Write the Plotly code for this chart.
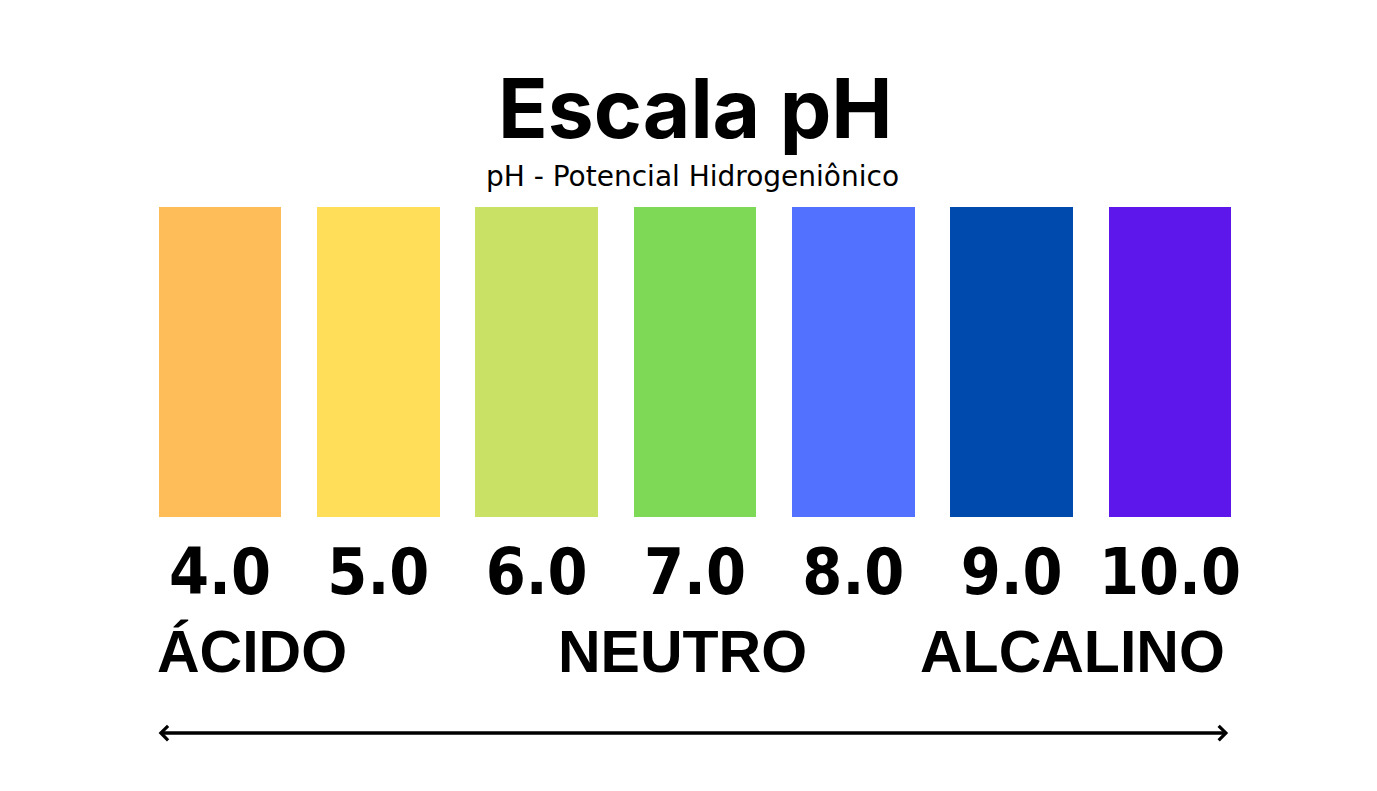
import plotly.graph_objects as go

# pH scale data
PH_VALUES=[4.0,5.0,6.0,7.0,8.0,9.0,10.0]
PH_LABELS=["4.0","5.0","6.0","7.0","8.0","9.0","10.0"]
BAR_HEIGHT=[1,1,1,1,1,1,1]
BAR_COLORS=["#FFBD59","#FFDE59","#C9E265","#7ED957","#5271FF","#004AAD","#5E17EB"]
GROUPS=["ÁCIDO","NEUTRO","ALCALINO"]

TITLE="Escala pH"
SUBTITLE="pH - Potencial Hidrogeniônico"

WIDTH=1377
HEIGHT=791
BAR_WIDTH=0.775
# ranges account for the 8px body margin of the page
X_RANGE=[2.6610,11.3580]
Y_RANGE=[-0.9097,1.6419]
NUM_FONT="DejaVu Sans Condensed, sans-serif"
GROUP_FONT="Liberation Sans, Arial, sans-serif"

fig=go.Figure()
fig.add_trace(go.Bar(x=PH_VALUES,y=BAR_HEIGHT,width=BAR_WIDTH,
                     marker=dict(color=BAR_COLORS,line=dict(width=0)),
                     hoverinfo="skip"))
fig.add_trace(go.Scatter(x=PH_VALUES,y=[-0.196]*len(PH_VALUES),mode="text",
                         text=PH_LABELS,
                         textfont=dict(family=NUM_FONT,size=64,color="black",weight="bold"),
                         hoverinfo="skip"))

left_edge=min(PH_VALUES)-BAR_WIDTH/2
right_edge=max(PH_VALUES)+BAR_WIDTH/2
annotations=[
    dict(text=f"<b>{TITLE}</b>",x=0.4996,y=0.873,xref="paper",yref="paper",
         xanchor="center",yanchor="middle",showarrow=False,
         font=dict(family="Inter, Roboto, sans-serif",size=82,color="black",weight=900)),
    dict(text=SUBTITLE,x=0.4971,y=0.787,xref="paper",yref="paper",
         xanchor="center",yanchor="middle",showarrow=False,
         font=dict(family="DejaVu Sans, sans-serif",size=28,color="black")),
    dict(text=f"<b>{GROUPS[0]}</b>",x=left_edge-0.02,y=-0.437,xanchor="left",yanchor="middle",
         showarrow=False,font=dict(family=GROUP_FONT,size=59,color="black")),
    dict(text=f"<b>{GROUPS[1]}</b>",x=6.92,y=-0.437,xanchor="center",yanchor="middle",
         showarrow=False,font=dict(family=GROUP_FONT,size=59,color="black")),
    dict(text=f"<b>{GROUPS[2]}</b>",x=right_edge-0.03,y=-0.437,xanchor="right",yanchor="middle",
         showarrow=False,font=dict(family=GROUP_FONT,size=59,color="black")),
    # double headed arrow along the bottom
    dict(x=right_edge-0.02,y=-0.697,ax=left_edge-0.01,ay=-0.697,axref="x",ayref="y",
         showarrow=True,arrowhead=4,startarrowhead=4,arrowside="end+start",
         arrowwidth=3.5,arrowsize=0.8,startarrowsize=0.8,arrowcolor="black",text=""),
]

fig.update_layout(
    width=WIDTH,height=HEIGHT,
    margin=dict(l=0,r=0,t=0,b=0),
    paper_bgcolor="white",plot_bgcolor="white",
    showlegend=False,
    bargap=0,
    annotations=annotations,
    hovermode=False,
)
fig.update_xaxes(visible=False,range=X_RANGE)
fig.update_yaxes(visible=False,range=Y_RANGE)

fig.write_html("out.html")
